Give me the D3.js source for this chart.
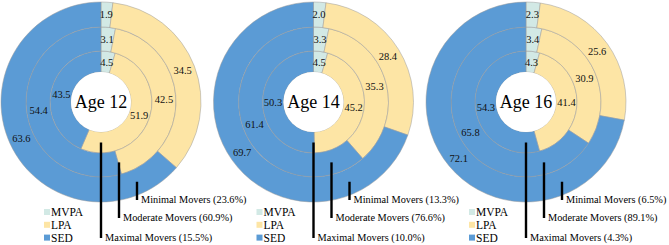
<!DOCTYPE html>
<html>
<head>
<meta charset="utf-8">
<script src="https://cdn.jsdelivr.net/npm/d3@7"></script>
<style>
  body { margin: 0; background: #fff; }
  text { font-family: 'Liberation Serif', 'DejaVu Serif', serif; }
</style>
</head>
<body>
<svg id="chart" width="669" height="245" font-family="Liberation Serif, DejaVu Serif, serif"></svg>
<script>
// data, rings go inner -> outer (Maximal, Moderate, Minimal)
const ages = ['Age 12', 'Age 14', 'Age 16'];
const groups = ['Maximal Movers', 'Moderate Movers', 'Minimal Movers'];
const categories = ['MVPA', 'LPA', 'SED'];
const groupShare = [[15.5, 60.9, 23.6], [10.0, 76.6, 13.3], [4.3, 89.1, 6.5]];
const mvpa = [[4.5, 3.1, 1.9], [4.5, 3.3, 2.0], [4.3, 3.4, 2.3]];
const lpa = [[51.9, 42.5, 34.5], [45.2, 35.3, 28.4], [41.4, 30.9, 25.6]];
const sed = [[43.5, 54.4, 63.6], [50.3, 61.4, 69.7], [54.3, 65.8, 72.1]];

const colors = d3.scaleOrdinal().domain(categories).range(['#d2e9e5', '#fde5a5', '#5b9bd5']);
const xCenter = d3.scalePoint().domain(ages).range([101, 526]);
const cy = 102;
const ringEdges = [30, 51, 75, 100];

const svg = d3.select('#chart');
const pie = d3.pie().sort(null).value(d => d.value);

ages.forEach((age, a) => {
    const g = svg.append('g').attr('transform', `translate(${xCenter(age)}, ${cy})`);

    groups.forEach((grp, r) => {
        const rows = [
            {key: 'MVPA', value: mvpa[a][r]},
            {key: 'LPA', value: lpa[a][r]},
            {key: 'SED', value: sed[a][r]}
        ];
        const arc = d3.arc().innerRadius(ringEdges[r]).outerRadius(ringEdges[r + 1]);
        const arcs = pie(rows);

        g.selectAll(null).data(arcs).enter().append('path')
            .attr('d', arc)
            .attr('fill', d => colors(d.data.key))
            .attr('stroke', '#9a9a9a')
            .attr('stroke-width', 0.5);

        g.selectAll(null).data(arcs).enter().append('text')
            .attr('transform', d => `translate(${arc.centroid(d)})`)
            .attr('text-anchor', 'middle')
            .attr('dy', '0.35em')
            .attr('font-size', 10.5)
            .attr('fill', '#111')
            .text(d => d.data.value.toFixed(1));
    });

    g.append('circle').attr('r', ringEdges[0]).attr('fill', '#fff');
    g.append('text')
        .attr('text-anchor', 'middle')
        .attr('dy', '0.35em')
        .attr('font-size', 18)
        .text(age);

    // callout lines for the mover groups
    const offX = [0, 18, 36];
    const endY = [136, 116, 98];
    groups.forEach((grp, r) => {
        const rm = (ringEdges[r] + ringEdges[r + 1]) / 2;
        const x = offX[r];
        const y0 = Math.sqrt(rm * rm - x * x);
        g.append('line')
            .attr('x1', x).attr('x2', x)
            .attr('y1', y0).attr('y2', endY[r])
            .attr('stroke', '#000')
            .attr('stroke-width', 2.4);
        g.append('text')
            .attr('x', x + 4)
            .attr('y', endY[r] - 1)
            .attr('dy', '0.35em')
            .attr('font-size', 10.3)
            .text(`${grp} (${groupShare[a][r].toFixed(1)}%)`);
    });

    // legend
    const legend = g.append('g').attr('transform', 'translate(-57, 110)');
    categories.forEach((c, i) => {
        legend.append('rect')
            .attr('x', 0).attr('y', i * 12.8 - 3)
            .attr('width', 6).attr('height', 6)
            .attr('fill', colors(c));
        legend.append('text')
            .attr('x', 7).attr('y', i * 12.8)
            .attr('dy', '0.35em')
            .attr('font-size', 11.5)
            .text(c);
    });
});
</script>
</body>
</html>
